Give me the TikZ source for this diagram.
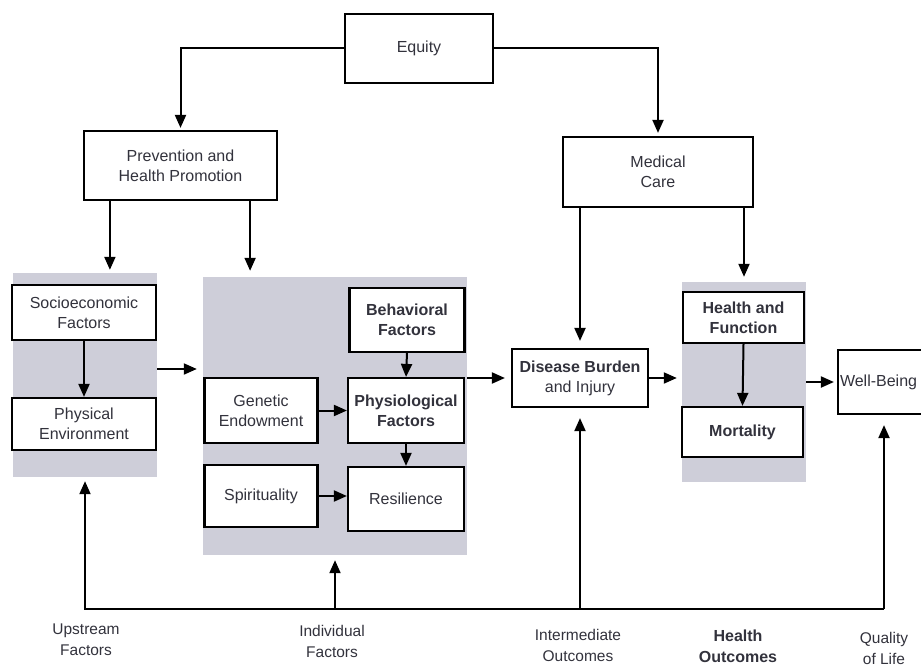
\documentclass[tikz,border=0pt]{standalone}
\usepackage{fontspec}
\setmainfont{Liberation Sans}
\usetikzlibrary{arrows.meta,calc}
\definecolor{panelgray}{RGB}{206,206,217}
\definecolor{inkgray}{RGB}{50,50,60}
\begin{document}
\begin{tikzpicture}[x=1pt,y=-1pt,
    box/.style={draw=black, line width=2.2pt, fill=white, inner sep=0pt, align=center,
      text=inkgray, font=\fontsize{16}{20}\selectfont},
    panel/.style={fill=panelgray, draw=none, inner sep=0pt},
    lbl/.style={inner sep=0pt, align=center, text=inkgray, font=\fontsize{15.5}{21}\selectfont},
    arr/.style={line width=2pt, -{Triangle[length=13pt,width=11pt]}}]
      \useasboundingbox (0,0) rectangle (921,666);
      \clip (0,0) rectangle (921,666);
      % shaded groups
      \node[panel, minimum width=144, minimum height=204] (panel1) at (85,375) {};
      \node[panel, minimum width=264, minimum height=278] (panel2) at (335,416) {};
      \node[panel, minimum width=124, minimum height=200] (panel3) at (744,382) {};
      % top row
      \node[box, minimum width=148, minimum height=69] (equity) at (419,48.5) {Equity};
      \node[box, minimum width=193, minimum height=69] (prev) at (180.5,165.5) {Prevention and\\Health Promotion};
      \node[box, minimum width=190, minimum height=70] (medical) at (658,172) {Medical\\Care};
      % upstream factors
      \node[box, minimum width=144, minimum height=55] (socio) at (84,312.5) {Socioeconomic\\Factors};
      \node[box, minimum width=144, minimum height=52] (physenv) at (84,424) {Physical\\Environment};
      % individual factors
      \node[box, minimum width=115, minimum height=64] (behav) at (407,320) {\textbf{Behavioral}\\\textbf{Factors}};
      \node[box, minimum width=113, minimum height=65] (genetic) at (261,410.5) {Genetic\\Endowment};
      \node[box, minimum width=116, minimum height=65] (physio) at (406,410.5) {\textbf{Physiological}\\\textbf{Factors}};
      \node[box, minimum width=113, minimum height=62] (spirit) at (261,496) {Spirituality};
      \node[box, minimum width=116, minimum height=64] (resil) at (406,499) {Resilience};
      % outcomes
      \node[box, minimum width=136, minimum height=58] (disease) at (580,378) {\textbf{Disease Burden}\\and Injury};
      \node[box, minimum width=121, minimum height=51] (hf) at (743.5,317.5) {\textbf{Health and}\\\textbf{Function}};
      \node[box, minimum width=121, minimum height=50] (mort) at (742.5,432) {\textbf{Mortality}};
      \node[box, minimum width=100, minimum height=64, text width=96, align=left] (wellbeing) at (888,382) {Well-Being};
      % bottom labels
      \node[lbl] (upstream) at (86,640) {Upstream\\Factors};
      \node[lbl] (individual) at (332,641) {Individual\\Factors};
      \node[lbl] (intermediate) at (578,645) {Intermediate\\Outcomes};
      \node[lbl, font=\fontsize{16}{21}\selectfont\bfseries] (healthout) at (738,646) {Health\\Outcomes};
      \node[lbl] (quality) at (884,648) {Quality\\of Life};
      % equity branches
      \draw[arr, shorten >=2pt] (equity.west) -| (prev.north);
      \draw[arr, shorten >=3pt] (equity.east) -| (medical.north);
      \coordinate (pl) at ([xshift=27pt]prev.south west);
      \coordinate (pr) at ([xshift=-28pt]prev.south east);
      \draw[arr, shorten >=3pt] (pl) -- (pl |- panel1.north);
      \draw[arr, shorten >=6pt] (pr) -- (pr |- panel2.north);
      \draw[arr, shorten >=7pt] (medical.south -| disease.north) -- (disease.north);
      \draw[arr, shorten >=5pt] (medical.south -| panel3.north) -- (panel3.north);
      % inside groups
      \draw[arr] (socio.south) -- (physenv.north);
      \draw[arr] (behav.south) -- (physio.north);
      \draw[arr] (genetic.east) -- (physio.west);
      \draw[arr] (physio.south) -- (resil.north);
      \draw[arr] (spirit.east) -- (spirit.east -| resil.west);
      \draw[arr] (hf.south) -- (mort.north);
      % main flow
      \coordinate (mid1) at ($(socio.south)!.5!(physenv.north)$);
      \draw[arr, shorten >=6pt] (mid1 -| panel1.east) -- (mid1 -| panel2.west);
      \draw[arr, shorten >=6pt] (disease.west -| panel2.east) -- (disease.west);
      \draw[arr, shorten >=5pt] (disease.east) -- (disease.east -| panel3.west);
      \draw[arr, shorten >=3pt] (wellbeing.west -| panel3.east) -- (wellbeing.west);
      % feedback line
      \coordinate (fbL) at (85,609);
      \coordinate (fbR) at (884,609);
      \draw[arr, shorten >=4pt] (fbR) -| (panel1.south);
      \draw[arr, shorten >=10pt] (fbR) -- (fbR |- wellbeing.south);
      \draw[arr, shorten >=5pt] (panel2.south |- fbL) -- (panel2.south);
      \draw[arr, shorten >=10pt] (disease.south |- fbL) -- (disease.south);
    \end{tikzpicture}
\end{document}
